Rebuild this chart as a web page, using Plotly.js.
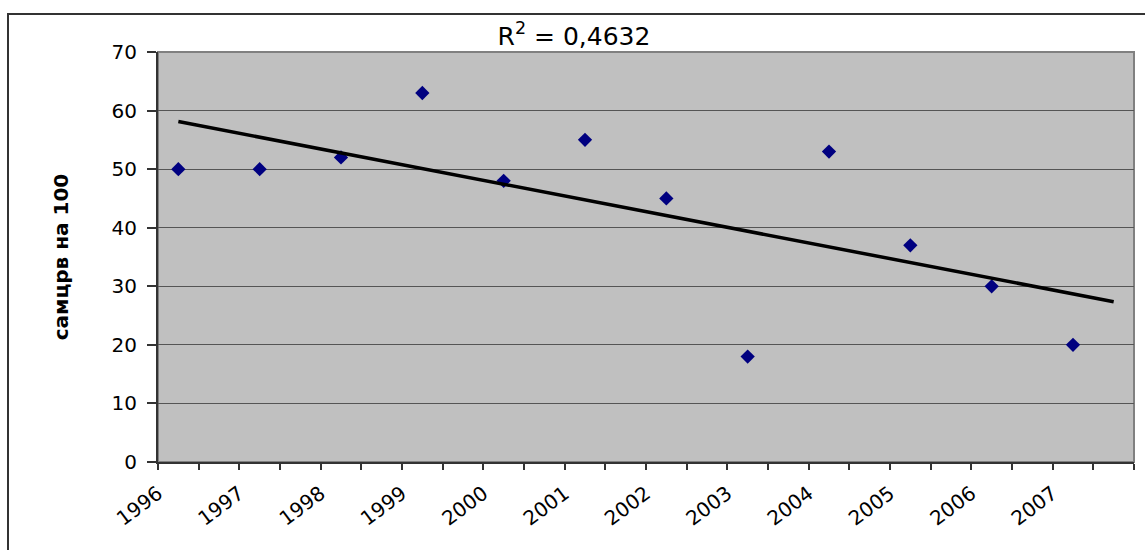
<!DOCTYPE html>
<html>
<head>
<meta charset="utf-8">
<script src="https://cdn.plot.ly/plotly-3.0.1.min.js"></script>
<style>
  html, body { margin: 0; padding: 0; background: #ffffff; }
  #chart { width: 1145px; height: 550px; }
</style>
</head>
<body>
<div id="chart"></div>
<script>
// ---- data ----
const years = [1996, 1997, 1998, 1999, 2000, 2001, 2002, 2003, 2004, 2005, 2006, 2007];
const values = [50, 50, 52, 63, 48, 55, 45, 18, 53, 37, 30, 20];
const yTitle = "самцрв на 100";
const yTicks = [0, 10, 20, 30, 40, 50, 60, 70];

// ---- layout constants ----
const pointOffset = 0.25;     // points sit a quarter period after the year tick
const trendForward = 0.5;     // trendline forecast forward (periods)

// linear regression on period index 1..n
const n = values.length;
const idx = values.map((_, i) => i + 1);
const mx = idx.reduce((a, b) => a + b, 0) / n;
const my = values.reduce((a, b) => a + b, 0) / n;
let sxy = 0, sxx = 0, syy = 0;
for (let i = 0; i < n; i++) {
  sxy += (idx[i] - mx) * (values[i] - my);
  sxx += (idx[i] - mx) ** 2;
  syy += (values[i] - my) ** 2;
}
const slope = sxy / sxx;
const intercept = my - slope * mx;
const r2 = (sxy * sxy) / (sxx * syy);
const r2Text = "R<sup>2</sup> = " + r2.toFixed(4).replace(".", ",");

const xPts = years.map(y => y + pointOffset);
const tStart = 1, tEnd = n + trendForward;
const trendX = [years[0] + pointOffset + (tStart - 1), years[0] + pointOffset + (tEnd - 1)];
const trendY = [intercept + slope * tStart, intercept + slope * tEnd];

// x ticks every half period, labels on whole years
const xTickVals = [], xTickText = [];
for (let v = years[0]; v <= years[n - 1] + 1 + 1e-9; v += 0.5) {
  xTickVals.push(v);
  xTickText.push(Number.isInteger(v) && v <= years[n - 1] ? String(v) : "");
}

const W = 1145, H = 550;
const mL = 158, mR = 11, mT = 52, mB = 88;
const pw = W - mL - mR, ph = H - mT - mB;
const px2x = p => (p - mL) / pw;
const py2y = p => (H - mB - p) / ph;

const traces = [
  {
    x: xPts, y: values, type: "scatter", mode: "markers",
    marker: { symbol: "diamond", size: 11, color: "#000080", line: { width: 0 } },
    hoverinfo: "x+y", showlegend: false
  },
  {
    x: trendX, y: trendY, type: "scatter", mode: "lines",
    line: { color: "#000000", width: 3.5 },
    hoverinfo: "skip", showlegend: false
  }
];

const tickFont = { family: "DejaVu Sans, Arial, sans-serif", size: 20, color: "#000000" };

const layout = {
  width: W, height: H,
  margin: { l: mL, r: mR, t: mT, b: mB, pad: 0 },
  paper_bgcolor: "#ffffff",
  plot_bgcolor: "#c0c0c0",
  showlegend: false,
  title: {
    text: r2Text,
    font: { family: "DejaVu Sans, Arial, sans-serif", size: 25, color: "#000000" },
    x: 574 / W, xref: "container", xanchor: "center",
    y: 1 - 36 / H, yref: "container", yanchor: "middle"
  },
  xaxis: {
    range: [years[0], years[n - 1] + 1],
    tickmode: "array", tickvals: xTickVals, ticktext: xTickText,
    tickangle: -37,
    ticks: "outside", ticklen: 6, tickwidth: 2, tickcolor: "#333333",
    ticklabelstandoff: 4,
    showline: true, linecolor: "#333333", linewidth: 2,
    showgrid: false, zeroline: false,
    tickfont: tickFont,
    fixedrange: true
  },
  yaxis: {
    range: [0, 70],
    tickmode: "array", tickvals: yTicks,
    ticks: "outside", ticklen: 9, tickwidth: 2, tickcolor: "#333333",
    ticklabelstandoff: 6,
    showline: true, linecolor: "#333333", linewidth: 2,
    showgrid: true, gridcolor: "#555555", gridwidth: 1,
    zeroline: false,
    tickfont: tickFont,
    title: {
      text: "<b>" + yTitle + "</b>",
      font: { family: "DejaVu Sans, Arial, sans-serif", size: 20, color: "#000000" },
      standoff: 38
    },
    fixedrange: true
  },
  shapes: [
    { type: "rect", xref: "paper", yref: "paper", x0: 0, x1: 1, y0: 0, y1: 1,
      line: { color: "#808080", width: 2 }, fillcolor: "rgba(0,0,0,0)", layer: "below" },
    { type: "rect", xref: "paper", yref: "paper",
      x0: px2x(8), x1: px2x(1152), y0: py2y(560), y1: py2y(14),
      line: { color: "#333333", width: 2 }, fillcolor: "rgba(0,0,0,0)" }
  ]
};

Plotly.newPlot("chart", traces, layout, { displayModeBar: false, staticPlot: true });
</script>
</body>
</html>
